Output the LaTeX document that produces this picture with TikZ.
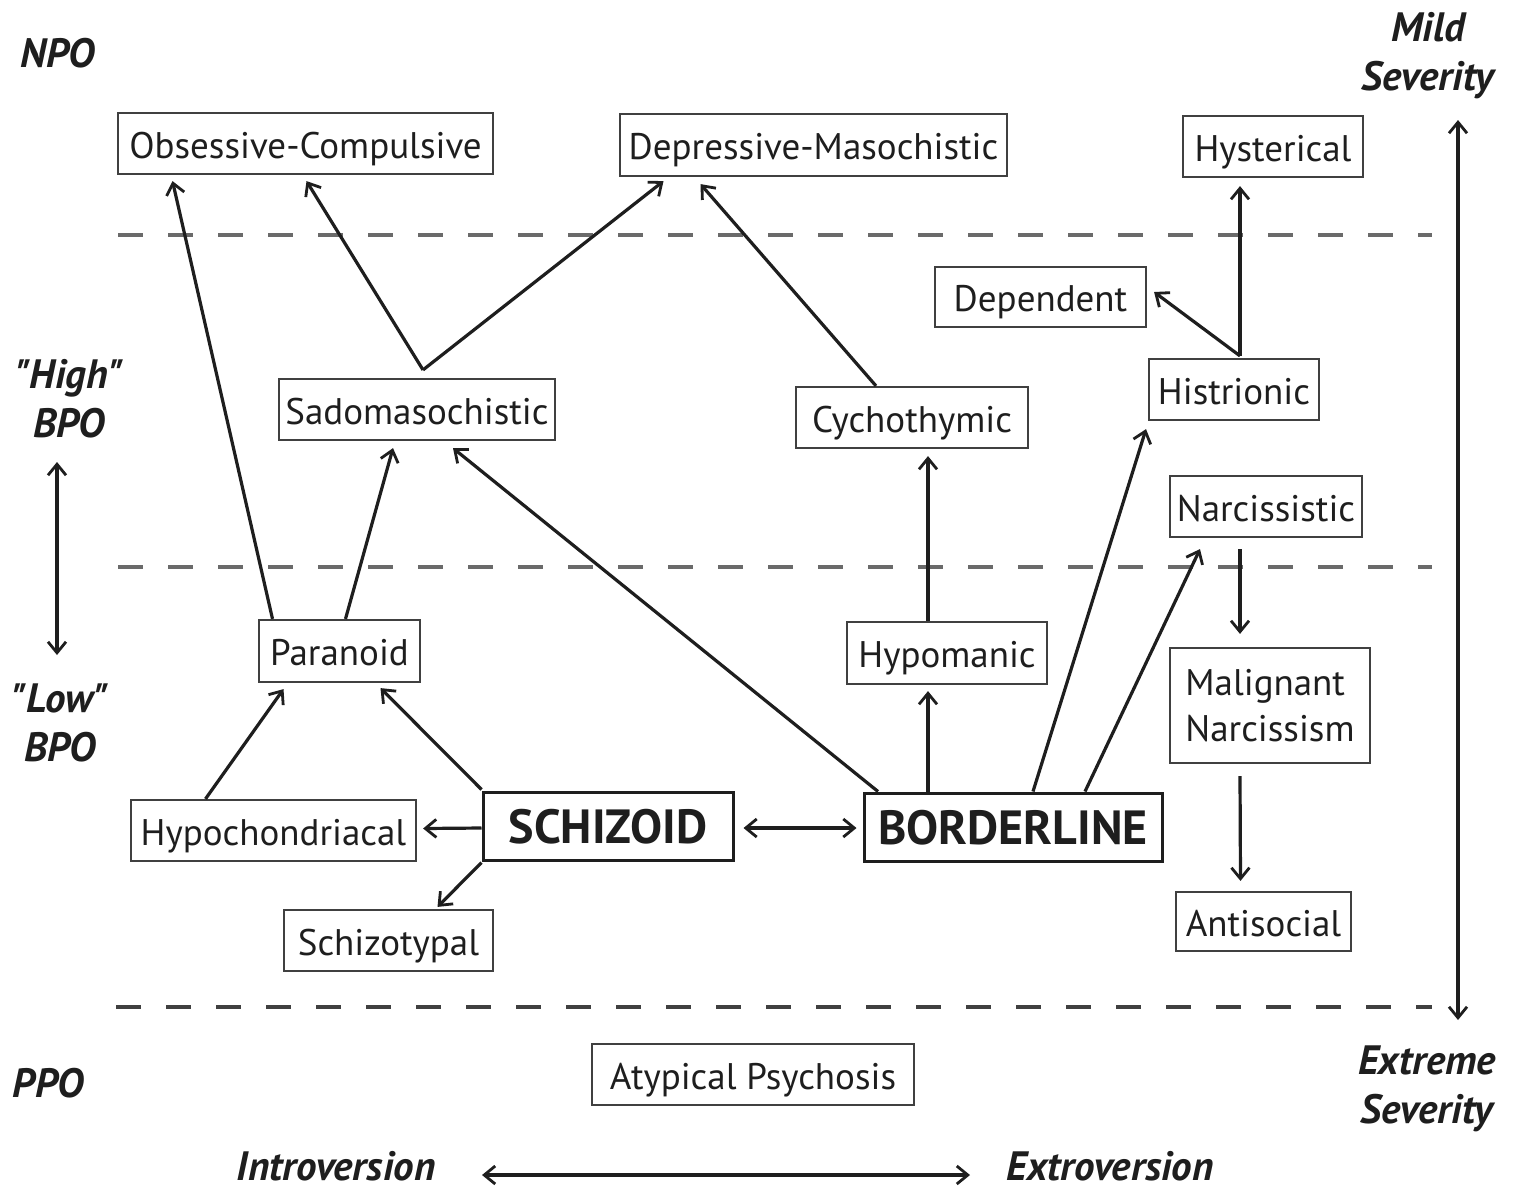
\documentclass[tikz,border=0pt]{standalone}
\usepackage{fontspec}
\setmainfont{PT Sans}[Ligatures=TeXOff]
\usetikzlibrary{arrows.meta,calc}
\definecolor{boxline}{HTML}{404040}
\definecolor{dashgray}{HTML}{6A6A6A}
\definecolor{ink}{HTML}{1E1E1E}
\tikzset{
  bx/.style 2 args={draw=boxline, line width=1.1pt, fill=white, text=ink,
    minimum width=#1*0.5pt, minimum height=#2*0.5pt, inner sep=0pt,
    text height=14.5pt, text depth=0pt,
    font=\fontsize{18.5}{23}\selectfont},
  bigbx/.style 2 args={draw=ink, line width=1.5pt, fill=white, text=ink,
    minimum width=#1*0.5pt, minimum height=#2*0.5pt, inner sep=0pt,
    text height=17pt, text depth=0pt,
    font=\fontsize{24}{28}\selectfont\bfseries},
  sidelbl/.style={text=ink, inner sep=0pt, align=center,
    font=\fontsize{20.5}{23.5}\selectfont\bfseries\itshape},
  arr/.style={draw=ink, line width=1.6pt,
    -{Straight Barb[length=5.5pt,width=9pt,line width=1.4pt]}},
  arrtwo/.style={draw=ink, line width=1.6pt,
    {Straight Barb[length=5.5pt,width=9pt,line width=1.4pt]}-{Straight Barb[length=5.5pt,width=9pt,line width=1.4pt]}},
  dashln/.style={draw=dashgray, line width=2.3pt, dash pattern=on 12.5pt off 12.5pt},
  dashlnb/.style={draw=boxline, line width=1.6pt, dash pattern=on 12.5pt off 12.5pt},
}
\begin{document}
\begin{tikzpicture}[x=0.5pt,y=-0.5pt]
\useasboundingbox[fill=white] (0,0) rectangle (1526,1190);

% dashed level separators
\draw[dashln] (118,235) -- (1432,235);
\draw[dashln] (118,567) -- (1432,567);
\draw[dashlnb] (116,1007) -- (1432,1007);

% boxes
\node[bx={375}{61}] (oc) at (305.5,143.5) {Obsessive-Compulsive};
\node[bx={387}{62}] (dm) at (813.5,145) {Depressive-Masochistic};
\node[bx={180}{61}] (hys) at (1273,146.5) {Hysterical};
\node[bx={211}{60}] (dep) at (1040.5,297) {Dependent};
\node[bx={170}{61}] (his) at (1234,389.5) {Histrionic};
\node[bx={276}{61}] (sado) at (417,409.5) {Sadomasochistic};
\node[bx={232}{61}] (cyc) at (912,417.5) {Cychothymic};
\node[bx={192}{61}] (nar) at (1266,506.5) {Narcissistic};
\node[bx={161}{62}] (par) at (339.5,651) {Paranoid};
\node[bx={200}{62}] (hypo) at (947,653) {Hypomanic};
\node[bx={200}{115}, text height={}, text depth={}, align=left] (mal) at (1270,705.5) {Malignant\\Narcissism};
\node[bx={285}{61}] (hyc) at (273.5,830.5) {Hypochondriacal};
\node[bigbx={250}{68}] (schz) at (608,826) {SCHIZOID};
\node[bigbx={298}{68}] (bord) at (1013,827) {BORDERLINE};
\node[bx={209}{61}] (sct) at (388.5,940.5) {Schizotypal};
\node[bx={175}{59}] (anti) at (1263.5,921.5) {Antisocial};
\node[bx={322}{61}] (atyp) at (753,1074.5) {Atypical Psychosis};

% side labels
\node[sidelbl] (npo) at (58,53) {NPO};
\node[sidelbl] (high) at (69,399) {"High"\\[1pt]BPO};
\node[sidelbl] (low) at (60,723) {"Low"\\[1pt]BPO};
\node[sidelbl] (ppo) at (48,1083) {PPO};
\node[sidelbl] (mild) at (1428,56) {Mild\\[1pt]Severity};
\node[sidelbl] (extreme) at (1427,1089) {Extreme\\[1pt]Severity};
\node[sidelbl] (intro) at (336,1166) {Introversion};
\node[sidelbl] (extro) at (1110,1166) {Extroversion};

% axis arrows
\coordinate (ltop) at (57,462);
\coordinate (lbot) at (57,655);
\coordinate (rtop) at (1458,120);
\coordinate (rbot) at (1458,1020);
\coordinate (bl) at (482,1175);
\coordinate (br) at (970,1175);
\draw[arrtwo] (ltop) -- (lbot);
\draw[arrtwo] (rtop) -- (rbot);
\draw[arrtwo] (bl) -- (br);

% connectors
\draw[arr] ($(par.north)+(-67,0)$) -- ($(oc.south)+(-133,6)$);
\draw[arr] ($(par.north)+(6,0)$) -- ($(sado.south)+(-24,7)$);
\coordinate (sv) at ($(sado.north)+(6,-8)$);
\draw[arr] (sv) -- ($(oc.south)+(1,6)$);
\draw[arr] (sv) -- ($(dm.south)+(-150,4)$);
\draw[arr] ($(cyc.north)+(-36,0)$) -- ($(dm.south)+(-113,7)$);
\coordinate (hv) at ($(his.north)+(6,-2)$);
\draw[arr] (hv) -- ($(hys.south)+(-33,8)$);
\draw[arr] (hv) -- ($(dep.east)+(7,-5)$);
\draw[arr] ($(hypo.north)+(-19,0)$) -- ($(cyc.south)+(16,7)$);
\draw[arr] ($(bord.north)+(-85,0)$) -- ($(hypo.south)+(-19,6)$);
\draw[arr] ($(bord.north)+(-135,0)$) -- ($(sado.south)+(36,7)$);
\draw[arr] ($(bord.north)+(20,0)$) -- ($(his.south)+(-88,8)$);
\draw[arr] ($(bord.north)+(72,0)$) -- ($(nar.south)+(-66,11)$);
\draw[arr] ($(nar.south)+(-26,11)$) -- ($(mal.north)+(-30,-13)$);
\draw[arr] ($(mal.south)+(-30,12)$) -- ($(anti.north)+(-23,-10)$);
\draw[arrtwo] ($(schz.east)+(9,2)$) -- ($(bord.west)+(-6,1)$);
\draw[arr] ($(schz.west)+(0,2)$) -- ($(hyc.east)+(6,-2)$);
\draw[arr] ($(schz.north west)+(0,-1)$) -- ($(par.south)+(41,5)$);
\draw[arr] ($(hyc.north)+(-68,0)$) -- ($(par.south)+(-56,6)$);
\draw[arr] ($(schz.south west)+(0,1)$) -- ($(sct.north)+(49,-2)$);
\end{tikzpicture}
\end{document}
